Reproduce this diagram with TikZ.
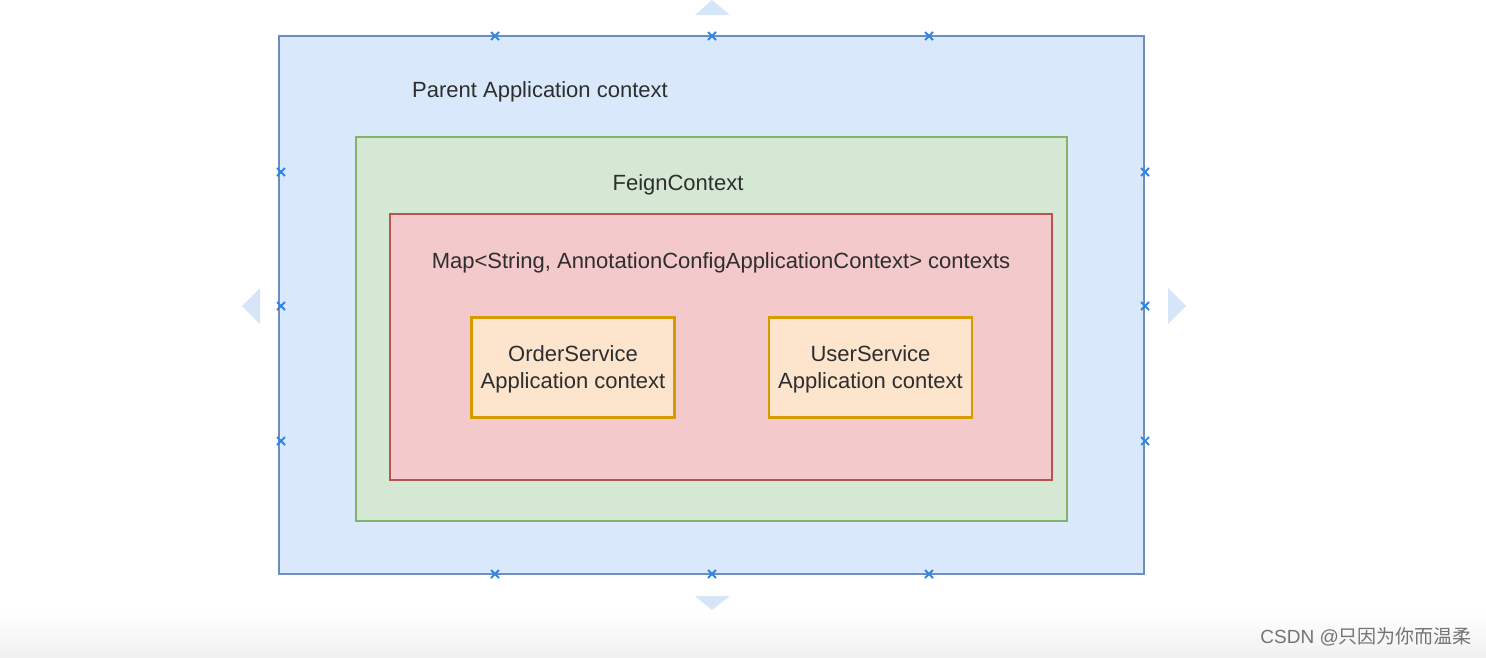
\documentclass[tikz,border=0pt]{standalone}
\usepackage{fontspec}
\setmainfont{Liberation Sans}
\newfontfamily\cjk{Noto Sans CJK SC}
\begin{document}
\begin{tikzpicture}[x=1pt,y=-1pt,
  txt/.style={text=black!82,font=\fontsize{22}{26}\selectfont,inner sep=0pt},
  mk/.style={draw=marker,line width=1.8pt},
  tri/.style={fill=triblue,draw=none},
  svc/.style={draw=ordraw,fill=orfill,line width=2.8pt,minimum width=203pt,minimum height=100pt,
    txt,align=center,font=\fontsize{22}{27}\selectfont}]
\definecolor{bluefill}{HTML}{DAE8FC}
\definecolor{bluedraw}{HTML}{6C8EBF}
\definecolor{greenfill}{HTML}{D5E8D4}
\definecolor{greendraw}{HTML}{82B366}
\definecolor{redfill}{HTML}{F3C9CB}
\definecolor{reddraw}{HTML}{B85450}
\definecolor{orfill}{HTML}{FCE4CD}
\definecolor{ordraw}{HTML}{D79B00}
\definecolor{marker}{HTML}{2F86E6}
\definecolor{triblue}{HTML}{D6E6F8}
\definecolor{grayband}{HTML}{F1F1F1}
\useasboundingbox (0,0) rectangle (1486,657);
\fill[white] (0,0) rectangle (1486,657);
\shade[top color=white,bottom color=grayband] (0,612) rectangle (1486,657);
% outer boxes
\draw[fill=bluefill,draw=bluedraw,line width=2.8pt] (279,36) rectangle (1144,574);
\draw[fill=greenfill,draw=greendraw,line width=2.8pt] (356,137) rectangle (1067,521);
\draw[fill=redfill,draw=reddraw,line width=2.8pt] (390,214) rectangle (1052,480);
\node[txt,anchor=west] (parent) at (412,92) {Parent Application context};
\node[txt] (feign) at (678,185) {FeignContext};
\node[txt] (map) at (721,262.5) {Map<String, AnnotationConfigApplicationContext> contexts};
\node[svc] (order) at (573,367.5) {};
\node[svc] (user) at (870.5,367.5) {};
\node[txt,align=center,font=\fontsize{22}{27}\selectfont] (ordertxt) at (573,369.5) {OrderService\\Application context};
\node[txt,align=center,font=\fontsize{22}{27}\selectfont] (usertxt) at (870.5,369.5) {UserService\\Application context};
% markers
\foreach \px in {495,712,929}{
  \draw[mk] (\px-4,32) -- (\px+4,40) (\px-4,40) -- (\px+4,32);
  \draw[mk] (\px-4,570) -- (\px+4,578) (\px-4,578) -- (\px+4,570);
}
\foreach \py in {172,306,441}{
  \draw[mk] (277,\py-4) -- (285,\py+4) (277,\py+4) -- (285,\py-4);
  \draw[mk] (1141,\py-4) -- (1149,\py+4) (1141,\py+4) -- (1149,\py-4);
}
% triangles
\fill[tri] (695,15) -- (712,0) -- (730,15) -- cycle;
\fill[tri] (695,596) -- (730,596) -- (712,610) -- cycle;
\fill[tri] (260,288) -- (242,306) -- (260,324) -- cycle;
\fill[tri] (1168,288) -- (1186,306) -- (1168,324) -- cycle;
% watermark
\node[anchor=east,text=black!55,font=\fontsize{19}{22}\selectfont,inner sep=0pt] (wm) at (1472,637) {CSDN @{\cjk 只因为你而温柔}};
\end{tikzpicture}
\end{document}
